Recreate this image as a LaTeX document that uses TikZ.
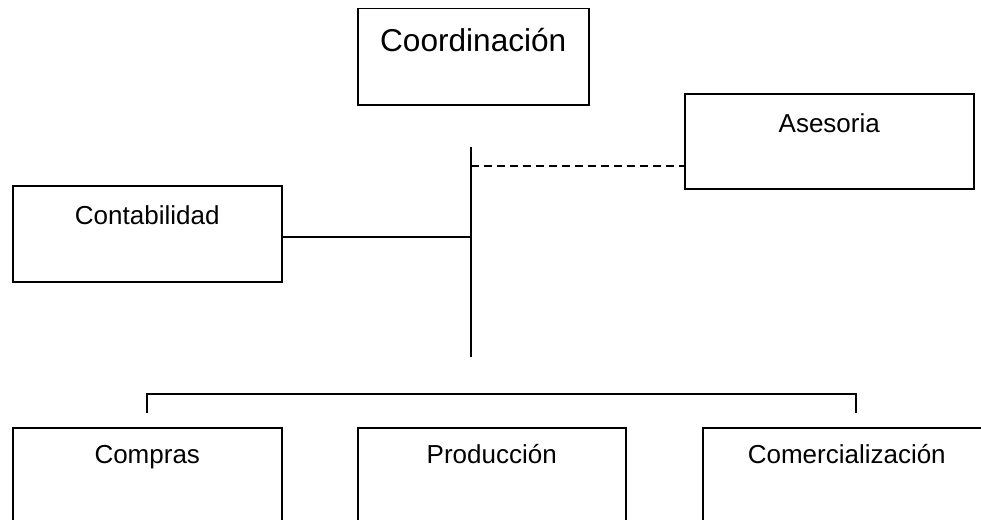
\documentclass[tikz,border=0pt]{standalone}
\usepackage{fontspec}
\setmainfont{Liberation Sans}
\begin{document}
\begin{tikzpicture}[x=1pt,y=-1pt,
  box/.style={draw, line width=1.5pt, inner sep=0pt, anchor=north west, font=\fontsize{26}{30}\selectfont},
  conn/.style={line width=1.5pt}]
\useasboundingbox (0,0) rectangle (981,519);
\node[box, minimum width=231pt, text height=43pt, text depth=53pt, font=\fontsize{31.6}{36}\selectfont] (coord) at (357,8) {Coordinación};
\node[box, minimum width=289pt, text height=39pt, text depth=56pt] (ases) at (684,93) {Asesoria};
\node[box, minimum width=269pt, text height=39pt, text depth=57pt] (cont) at (12,185) {Contabilidad};
\node[box, minimum width=269pt, text height=36pt, text depth=110pt] (comp) at (12,427) {Compras};
\node[box, minimum width=268pt, text height=36pt, text depth=110pt] (prod) at (357,427) {Producción};
\node[box, minimum width=288pt, text height=36pt, text depth=110pt] (come) at (702,427) {Comercialización};
\coordinate (top) at (471,147);
\coordinate (bot) at (471,357);
\coordinate (d) at (471,166);
\coordinate (c) at (471,237);
\coordinate (bl) at (147,413);
\coordinate (br) at (856,413);
\coordinate (blt) at (147,394);
\coordinate (brt) at (856,394);
\draw[conn] (top) -- (bot);
\draw[conn, dash pattern=on 8pt off 5pt] (d) -- (d -| ases.west);
\draw[conn] (c) -- (c -| cont.east);
\draw[conn] (bl) -- (blt) -- (brt) -- (br);
\end{tikzpicture}
\end{document}
